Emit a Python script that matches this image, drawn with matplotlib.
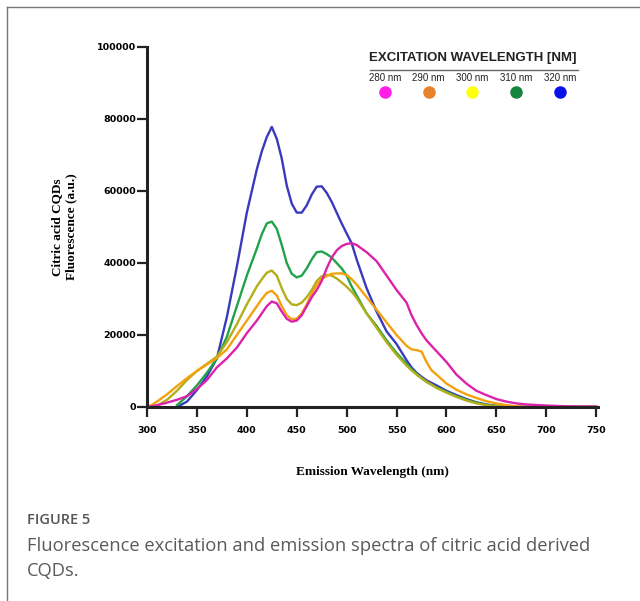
import numpy as np
import matplotlib.pyplot as plt
from matplotlib.lines import Line2D

nan = np.nan

# emission wavelength grid (nm)
wavelength = [300, 305, 310, 320, 330, 340, 350, 360, 370, 380,
              390, 400, 410, 415, 420, 425, 430, 435, 440, 445,
              450, 455, 460, 465, 470, 475, 480, 485, 490, 495,
              500, 505, 510, 520, 530, 540, 550, 560, 565, 570,
              575, 580, 585, 590, 600, 610, 620, 630, 640, 650,
              660, 670, 680, 700, 720, 750]

# fluorescence (thousands a.u.) per excitation wavelength
ex280 = [0, 0.2, 0.5, 1.2, 2, 3, 5, 7.5, 11, 13.5,
         16.5, 20.5, 24, 26, 28, 29.3, 28.8, 26.5, 24.5, 23.7,
         24, 25.5, 28, 30.5, 32.5, 35, 38.5, 41.5, 43.5, 44.7,
         45.3, 45.5, 45, 43, 40.5, 36.5, 32.5, 29, 25.5, 22.8,
         20.5, 18.5, 17, 15.5, 12.5, 9, 6.5, 4.5, 3.3, 2.2,
         1.5, 1, 0.7, 0.4, 0.2, 0.1]
ex290 = [0, 0.6, 1.5, 3.5, 5.8, 8, 10, 11.8, 13.6, 16,
         20, 24, 28, 30, 31.7, 32.3, 31, 28, 25.5, 24.4,
         24.5, 26, 28.5, 31.5, 34, 35.5, 36.4, 37, 37.1, 37.1,
         36.7, 35.5, 34, 30.5, 27, 23.5, 20, 17, 16, 15.8,
         15.4, 12.5, 10.2, 9, 6.5, 4.8, 3.5, 2.5, 1.6, 1,
         0.5, 0.2, 0.1, 0, 0, 0]
ex300 = [nan, nan, 0.3, 2, 4.5, 7.5, 10, 12, 14, 18,
         23, 28.5, 33.5, 35.5, 37.3, 37.9, 36.5, 33, 30, 28.5,
         28.3, 29, 30.5, 32.5, 35, 36.3, 36.7, 36.5, 35.7, 34.6,
         33.4, 32, 30.3, 26, 22, 18, 14.5, 11.5, 10.2, 9,
         8, 7, 6.2, 5.3, 4, 2.8, 1.8, 1, 0.5, 0.2,
         0.1, 0, 0, 0, 0, 0]
ex310 = [nan, nan, nan, nan, 0.5, 3, 6, 9.5, 13.5, 19.5,
         28, 36.5, 44, 48, 51, 51.5, 49.5, 45, 40, 37,
         36, 36.5, 38.5, 41, 43, 43.2, 42.5, 41.5, 40, 38.5,
         36.5, 33.5, 31, 26, 22.5, 18.5, 15, 12, 10.5, 9.2,
         8, 7, 6.2, 5.5, 4.2, 3, 2, 1.2, 0.6, 0.3,
         0.1, 0, 0, 0, 0, 0]
ex320 = [nan, nan, nan, nan, 0, 1.5, 4.7, 8.5, 13.5, 25,
         39, 54, 66, 71, 75, 77.8, 74.5, 69, 61.5, 56.5,
         54, 54, 56, 59, 61.2, 61.3, 59.5, 57, 54, 51,
         48.2, 45.5, 41, 33, 26.5, 21, 17.5, 13, 11, 9.5,
         8.4, 7.4, 6.7, 6, 4.5, 3.3, 2.2, 1.3, 0.7, 0.3,
         0.1, 0, 0, 0, 0, 0]

labels = ['280 nm', '290 nm', '300 nm', '310 nm', '320 nm']
line_colors = ['#dd22aa', '#f2a20e', '#b4ae1a', '#22a24a', '#3a3abd']
dot_colors = ['#ff1ee6', '#e8822a', '#ffff10', '#13843c', '#0a10e8']

fig = plt.figure(figsize=(6.4, 6.01), dpi=100)
ax = fig.add_axes([0.2297, 0.3228, 0.705, 0.599])

x = np.array(wavelength)
for vals, c in zip([ex320, ex310, ex300, ex290, ex280], line_colors[::-1]):
    ax.plot(x, np.array(vals) * 1000, color=c, lw=1.7, solid_joinstyle='round')

ax.set_xlim(300, 752)
ax.set_ylim(0, 100000)
ax.set_xticks(range(300, 751, 50))
ax.set_yticks(range(0, 100001, 20000))
for s in ['top', 'right']:
    ax.spines[s].set_visible(False)
for s in ['left', 'bottom']:
    ax.spines[s].set_linewidth(2.2)
    ax.spines[s].set_color('#222222')
ax.tick_params(direction='out', length=7, width=1.6, color='#222222')
for lab in ax.get_xticklabels() + ax.get_yticklabels():
    lab.set_fontweight('bold')
    lab.set_fontsize(6.8)
ax.tick_params(axis='x', pad=7)
ax.tick_params(axis='y', pad=1)

ax.set_xlabel('Emission Wavelength (nm)', family='Liberation Serif',
              fontweight='bold', fontsize=9.5, labelpad=22)
ax.set_ylabel('Citric acid CQDs\nFluorescence (a.u.)', family='Liberation Serif',
              fontweight='bold', fontsize=9.5, labelpad=14, linespacing=1.3)

# excitation legend
fig.text(473 / 640, 1 - 58 / 601, 'EXCITATION WAVELENGTH [NM]', ha='center',
         va='center', fontsize=9.5, fontweight='bold', family='Liberation Sans',
         color='#222222')
fig.add_artist(Line2D([370 / 640, 578 / 640], [1 - 70 / 601, 1 - 70 / 601],
                      color='#666666', lw=1))
for i, (lab, dc) in enumerate(zip(labels, dot_colors)):
    xc = (385 + i * 43.7) / 640
    fig.text(xc, 1 - 78 / 601, lab, ha='center', va='center', fontsize=7,
             family='Liberation Sans', color='#222222')
    fig.add_artist(Line2D([xc], [1 - 92 / 601], marker='o', markersize=8,
                          color=dc, lw=0))

# frame
fig.add_artist(Line2D([7 / 640, 7 / 640], [0, 1 - 7 / 601], color='#777777', lw=1))
fig.add_artist(Line2D([7 / 640, 1], [1 - 7 / 601, 1 - 7 / 601], color='#777777', lw=1))

# caption
fig.text(27 / 640, 1 - 520 / 601, 'FIGURE 5', fontsize=10.5, color='#555555',
         family='Open Sans', fontweight='semibold', va='center')
fig.text(27 / 640, 1 - 546 / 601,
         'Fluorescence excitation and emission spectra of citric acid derived',
         fontsize=13.2, color='#5a5a5a', family='Open Sans', va='center')
fig.text(27 / 640, 1 - 571 / 601, 'CQDs.', fontsize=13.2, color='#5a5a5a',
         family='Open Sans', va='center')

fig.savefig('out.png', dpi=100)
